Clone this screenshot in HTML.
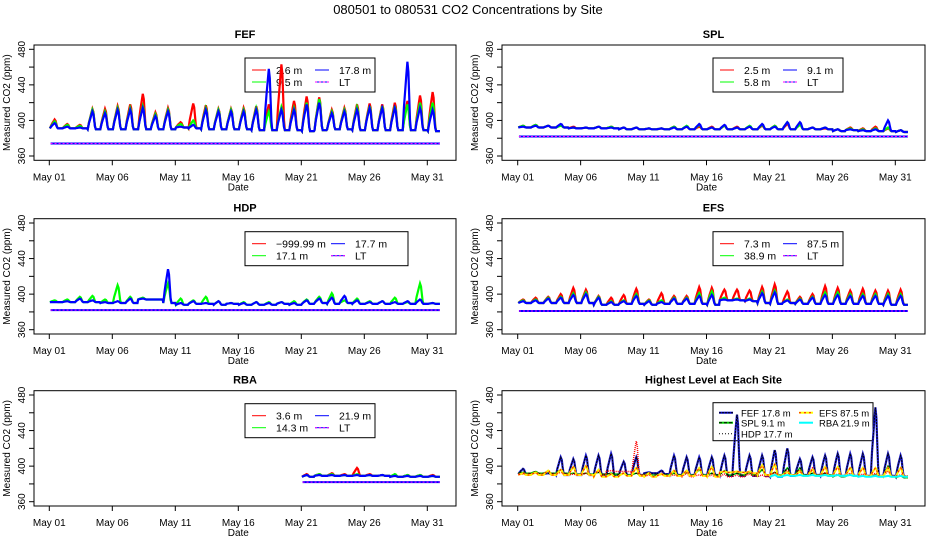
<!DOCTYPE html>
<html><head><meta charset="utf-8"><style>
body{margin:0;background:#fff}
svg{display:block;font-family:"Liberation Sans",sans-serif}
</style></head><body>
<svg id="c" width="936" height="540" viewBox="0 0 936 540" xmlns="http://www.w3.org/2000/svg">
<rect width="936" height="540" fill="#fff"/>
<text x="468" y="14" text-anchor="middle" font-size="13">080501  to  080531 CO2 Concentrations by Site</text>
</svg>
<script>
// ---- data (31 daily values, May 01 .. May 31) ----
const dayTicks = [0,5,10,15,20,25,30];
const dayLabels = ["May 01","May 06","May 11","May 16","May 21","May 26","May 31"];
const yTicks = [360,380,400,420,440,460,480];
const yLabels = ["360","","400","","440","","480"];

const fefBase = [391,391,391,390,390,390,390,390,390,390,392,391,390,390,390,390,389,389,389,389,388,389,390,390,389,389,389,389,389,389,388];
const fefRed = [401,396,395,413,413,416,418,430,409,414,398,419,417,413,413,414,416,418,463,422,427,426,412,414,418,419,418,420,422,428,432];
const fefGreen = [399,395,394,412,410,414,414,416,407,412,396,400,414,412,412,412,414,410,415,414,420,424,410,412,415,416,416,416,418,420,420];
const fefBlue = [397,393,392,410,408,412,412,414,405,410,393,395,412,410,410,410,412,458,412,412,418,420,408,410,412,414,414,414,466,414,412];
const fefLT = 374;

const splBase = [392,392,392,392,391,391,391,391,390,390,390,390,390,390,390,390,390,390,390,390,390,390,390,390,390,388,389,388,388,388,387];
const splRed = [394,395,394,395,393,392,393,393,392,392,391,391,393,393,393,393,394,393,393,394,394,396,396,392,391,390,392,391,393,391,389];
const splGreen = [394,395,394,394,392,392,393,393,392,392,391,391,393,394,395,392,394,392,394,395,394,398,395,392,392,390,391,390,391,392,389];
const splBlue = [393,394,394,396,392,392,393,392,392,392,391,391,392,393,396,392,395,392,393,396,393,398,398,392,392,390,390,389,390,400,389];
const splLT = 382;

const hdpBase = [391,391,391,391,390,390,390,394,394,390,388,389,389,388,389,388,388,388,389,388,389,390,389,390,389,389,389,389,389,389,389];
const hdpRed = [null,null,null,null,null,null,null,null,null,null,null,null,null,null,null,null,null,null,null,null,null,null,null,null,null,null,null,null,null,null,null];
const hdpGreen = [393,394,397,398,394,410,397,396,394,412,395,393,397,392,390,391,391,391,391,392,394,397,401,393,395,392,392,396,391,412,390];
const hdpBlue = [391,392,395,393,391,392,395,395,394,428,390,392,390,392,390,390,391,390,391,390,393,395,396,398,393,391,392,391,392,394,390];
const hdpLT = 382;

const efsBase = [390,390,390,390,390,390,388,388,389,389,388,389,389,389,389,388,393,393,392,390,389,390,389,389,389,389,389,389,389,388,388];
const efsRed = [394,396,397,400,407,405,398,396,399,406,394,401,398,398,408,407,405,405,404,408,411,403,397,400,409,407,404,406,404,404,405];
const efsGreen = [393,394,396,397,401,402,397,392,393,400,393,393,396,396,401,403,396,395,395,403,404,394,395,397,402,402,400,400,400,400,400];
const efsBlue = [392,393,395,396,399,400,396,391,392,398,392,391,395,395,398,399,394,394,394,401,402,393,394,396,399,399,398,398,398,398,398];
const efsLT = 381;

const rbaBase = [null,null,null,null,null,null,null,null,null,null,null,null,null,null,null,null,null,null,null,null,388,389,389,389,389,389,389,388,388,388,388];
const rbaRed = [null,null,null,null,null,null,null,null,null,null,null,null,null,null,null,null,null,null,null,null,391,391,392,391,398,391,390,390,390,390,390];
const rbaGreen = [null,null,null,null,null,null,null,null,null,null,null,null,null,null,null,null,null,null,null,null,390,391,391,390,391,390,390,391,390,390,389];
const rbaBlue = [null,null,null,null,null,null,null,null,null,null,null,null,null,null,null,null,null,null,null,null,390,390,390,390,390,390,390,389,389,389,389];
const rbaLT = 382;

const svg = document.getElementById('c');
const NS = 'http://www.w3.org/2000/svg';
function mk(tag, attrs, parent){const e=document.createElementNS(NS,tag);for(const k in attrs)e.setAttribute(k,attrs[k]);(parent||svg).appendChild(e);return e;}

function makePanel(col,row){
  const bx = col===0?34:502, bw = col===0?422:423;
  const x0 = col===0?49.3:517.7, x30 = col===0?427.3:895.3;
  const y480 = [49.3,223,395][row], y360 = y480+106.7;
  return {bx,bw,bt:y480-4.3,bb:y360+4.3,
    x:d=>x0+(x30-x0)*d/30,
    y:v=>y360-(v-360)*(y360-y480)/120};
}

function drawAxes(p,title,g){
  const t=mk('text',{x:p.bx+p.bw/2,y:p.bt-7,'text-anchor':'middle','font-size':11,'font-weight':'bold'},g);
  t.textContent=title;
  
  
  const box=mk('rect',{x:p.bx,y:p.bt,width:p.bw,height:p.bb-p.bt,fill:'none',stroke:'#000','stroke-width':1},g);
  
  
  dayTicks.forEach((d,i)=>{
    const x=p.x(d);
    mk('line',{x1:x,x2:x,y1:p.bb,y2:p.bb+5,stroke:'#000'},g);
    const l=mk('text',{x:x,y:p.bb+20,'text-anchor':'middle','font-size':10},g);
    l.textContent=dayLabels[i];
    
    
  });
  const xt=mk('text',{x:(p.x(0)+p.x(30))/2,y:p.bb+30,'text-anchor':'middle','font-size':10},g);
  xt.textContent='Date';
  
  
  yTicks.forEach((v,i)=>{
    const y=p.y(v);
    mk('line',{x1:p.bx-5,x2:p.bx,y1:y,y2:y,stroke:'#000'},g);
    if(yLabels[i]){
      const l=mk('text',{x:0,y:0,'text-anchor':'middle','font-size':10,transform:`translate(${p.bx-9},${y}) rotate(-90)`},g);
      l.textContent=yLabels[i];
      
      
    }
  });
  const yt=mk('text',{x:0,y:0,'text-anchor':'middle','font-size':10,transform:`translate(${p.bx-24},${(p.bt+p.bb)/2}) rotate(-90)`},g);
  yt.textContent='Measured CO2 (ppm)';
  
  
}

function pathFor(p,peaks,base){
  let s='',open=false;
  for(let d=0;d<31;d++){
    if(peaks[d]==null||base[d]==null){open=false;continue;}
    const b=base[d],k=peaks[d],h=k-b;
    const pts=[[d+0.05,b],[d+0.15,b+h*0.35],[d+0.25,b+h*0.6],[d+0.33,b+h*0.8],[d+0.42,k],[d+0.5,b+h*0.85],[d+0.56,b+h*0.5],[d+0.63,b+h*0.15],[d+0.7,b],[d+1.0,b]];
    pts.forEach(q=>{s+=(open?'L':'M')+p.x(q[0]).toFixed(1)+','+p.y(q[1]).toFixed(1)+' ';open=true;});
  }
  return s;
}

function ltLine(p,lt,start,g){
  const x1=p.x(start+0.1),x2=p.x(31),y=p.y(lt);
  const a=mk('line',{x1,x2,y1:y,y2:y,stroke:'#0000ff','stroke-width':2},g);
  
  
  mk('line',{x1,x2,y1:y,y2:y,stroke:'#ff00ff','stroke-width':1,'stroke-dasharray':'2,2'},g);
}

function legend(p,x,y,w,h,entries,g,fs){
  const lg=mk('g',{},g);
  
  
  mk('rect',{x,y,width:w,height:h,fill:'none',stroke:'#000'},lg);
  entries.forEach(e=>{
    const ex=x+e.cx, ey=y+e.cy;
    const it=mk('g',{},lg);
    
    
    mk('line',{x1:ex,x2:ex+14,y1:ey,y2:ey,stroke:e.c,'stroke-width':e.w||1,'stroke-dasharray':e.dash||'none'},it);
    if(e.c2) mk('line',{x1:ex,x2:ex+14,y1:ey,y2:ey,stroke:e.c2,'stroke-width':1,'stroke-dasharray':e.dash2||'2,2'},it);
    const t=mk('text',{x:ex+(e.tx||24),y:ey+4,'font-size':fs||10.5},it);
    t.textContent=e.t;
  });
}
function std4(a,b,c){return [
  {cx:7,cy:12,c:'#ff0000',t:a},{cx:70,cy:12,c:'#0000ff',t:c},
  {cx:7,cy:24,c:'#00ff00',t:b},{cx:70,cy:24,c:'#0000ff',c2:'#ff00ff',t:'LT'}];}

function sitePanel(col,row,title,base,red,green,blue,lt,labels,lgw,start){
  const g=mk('g',{});
  
  
  const p=makePanel(col,row);
  drawAxes(p,title,g);
  const ent=std4(...labels);
  if(lgw>140){ent[1].cx=86;ent[3].cx=86;}
  legend(p,p.bx+211,p.bt+13,lgw,34,ent,g);
  ltLine(p,lt,start,g);
  [[red,'#ff0000','series-red'],[green,'#00ff00','series-green'],[blue,'#0000ff','series-blue']].forEach(s=>{
    const e=mk('path',{d:pathFor(p,s[0],base),fill:'none',stroke:s[1],'stroke-width':2.2,'stroke-linejoin':'miter'},g);
    
    
  });
}

sitePanel(0,0,'FEF',fefBase,fefRed,fefGreen,fefBlue,fefLT,['2.6 m','9.5 m','17.8 m'],130,0);
sitePanel(1,0,'SPL',splBase,splRed,splGreen,splBlue,splLT,['2.5 m','5.8 m','9.1 m'],130,0);
sitePanel(0,1,'HDP',hdpBase,hdpRed,hdpGreen,hdpBlue,hdpLT,['\u2212999.99 m','17.1 m','17.7 m'],163,0);
sitePanel(1,1,'EFS',efsBase,efsRed,efsGreen,efsBlue,efsLT,['7.3 m','38.9 m','87.5 m'],130,0);
sitePanel(0,2,'RBA',rbaBase,rbaRed,rbaGreen,rbaBlue,rbaLT,['3.6 m','14.3 m','21.9 m'],130,20);

// Highest level panel
(function(){
  const g=mk('g',{});
  
  
  const p=makePanel(1,2);
  drawAxes(p,'Highest Level at Each Site',g);
  legend(p,p.bx+211,p.bt+12,160,38,[
    {cx:6,cy:10,c:'#0000cc',w:2,c2:'#000',dash2:'2,1',tx:22,t:'FEF   17.8 m'},
    {cx:6,cy:20,c:'#00cc00',w:2,c2:'#000',dash2:'3,2',tx:22,t:'SPL   9.1 m'},
    {cx:6,cy:31,c:'#000',dash:'1,2',tx:22,t:'HDP   17.7 m'},
    {cx:86,cy:10,c:'#ffff00',w:2,c2:'#ff0000',dash2:'2,3',tx:20,t:'EFS  87.5 m'},
    {cx:86,cy:20,c:'#00ffff',w:2,tx:20,t:'RBA  21.9 m'}],g,9.5);
  const s1=mk('path',{d:pathFor(p,fefBlue,fefBase),fill:'none',stroke:'#1a1acc','stroke-width':2.2},g);
  
  
  mk('path',{d:pathFor(p,fefBlue,fefBase),fill:'none',stroke:'#000','stroke-width':1,'stroke-dasharray':'2,1'},g);
  const s2=mk('path',{d:pathFor(p,splBlue,splBase),fill:'none',stroke:'#00cc00','stroke-width':1.5},g);
  
  
  mk('path',{d:pathFor(p,splBlue,splBase),fill:'none',stroke:'#000','stroke-width':1,'stroke-dasharray':'3,2'},g);
  const s3=mk('path',{d:pathFor(p,hdpBlue,hdpBase),fill:'none',stroke:'#ff0000','stroke-width':1.5,'stroke-dasharray':'1,1'},g);
  
  
  const s4=mk('path',{d:pathFor(p,efsBlue,efsBase),fill:'none',stroke:'#ffee00','stroke-width':2},g);
  
  
  mk('path',{d:pathFor(p,efsBlue,efsBase),fill:'none',stroke:'#ff0000','stroke-width':1,'stroke-dasharray':'2,3'},g);
  const s5=mk('path',{d:pathFor(p,rbaBlue,rbaBase),fill:'none',stroke:'#00ffff','stroke-width':2},g);
  
  
})();
</script>
</body></html>
